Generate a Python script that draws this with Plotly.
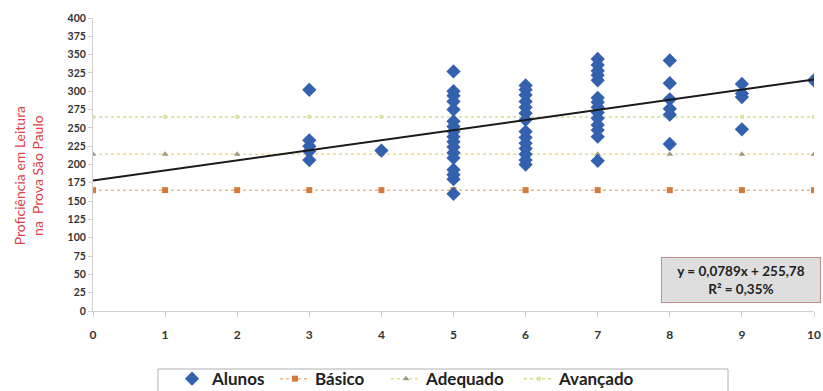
import plotly.graph_objects as go

# ---- data ----
alunos_x = ([3] * 5 + [4] + [5] * 17 + [6] * 14 + [7] * 14 + [8] * 6 + [9] * 4 + [10])
alunos_y = (
    [302, 233, 225, 218, 206]
    + [219]
    + [327, 300, 294, 286, 275, 259, 252, 245, 238, 231, 224, 216, 209, 193, 186, 180, 160]
    + [308, 302, 295, 286, 278, 270, 261, 245, 237, 229, 222, 214, 206, 200]
    + [344, 336, 328, 322, 315, 291, 285, 278, 271, 263, 254, 247, 238, 205]
    + [342, 311, 289, 276, 268, 228]
    + [310, 297, 292, 248]
    + [315]
)
level_x = list(range(0, 11))
basico_y = [165] * 11
adequado_y = [214] * 11
avancado_y = [265] * 11
trend_x = [0, 10]
trend_y = [178, 316]
x_ticks = list(range(0, 11))
y_ticks = list(range(0, 401, 25))

fig = go.Figure()
fig.add_trace(go.Scatter(
    x=level_x, y=basico_y, mode="lines+markers", name="Básico",
    line=dict(color="#EFB585", width=1.5, dash="dot"),
    marker=dict(symbol="square", size=6, color="#D47A3C"),
    legendrank=2, legendwidth=66,
))
fig.add_trace(go.Scatter(
    x=level_x, y=adequado_y, mode="lines+markers", name="Adequado",
    line=dict(color="#EEDB86", width=1.5, dash="dot"),
    marker=dict(symbol="triangle-up", size=6, color="#9E9A88"),
    legendrank=3, legendwidth=88,
))
fig.add_trace(go.Scatter(
    x=level_x, y=avancado_y, mode="lines+markers", name="Avançado",
    line=dict(color="#D3DD8E", width=1.5, dash="dot"),
    marker=dict(symbol="square", size=4, color="#DCE3A8"),
    legendrank=4, legendwidth=90,
))
fig.add_trace(go.Scatter(
    x=alunos_x, y=alunos_y, mode="markers", name="Alunos",
    marker=dict(symbol="diamond", size=11, color="#3461AE"),
    legendrank=1, legendwidth=58,
))
fig.add_trace(go.Scatter(
    x=trend_x, y=trend_y, mode="lines", showlegend=False,
    line=dict(color="#1a1a1a", width=2),
))

fig.add_annotation(
    x=8.99, y=42, xref="x", yref="y",
    text="<b>y = 0,0789x + 255,78<br>R² = 0,35%</b>",
    showarrow=False, font=dict(family="Lato", size=13.5, color="#222222"),
    bgcolor="#DEDEDE", bordercolor="#C98C8C", borderwidth=1, borderpad=4,
    width=150, height=36,
)
fig.add_annotation(
    x=-0.09, y=0.46, xref="paper", yref="paper", xanchor="center", yanchor="middle",
    text="Proficiência em Leitura<br>na  Prova São Paulo",
    textangle=-90, showarrow=False,
    font=dict(family="Lato", size=14, color="#E03F45"),
)
# legend frame
fig.add_shape(
    type="rect", xref="paper", yref="paper",
    x0=(158 - 93) / 721, x1=(728 - 93) / 721, y0=-0.198, y1=-0.40,
    line=dict(color="#B0B0B0", width=1), fillcolor="rgba(0,0,0,0)", layer="above",
)

fig.update_xaxes(
    range=[0, 10], tickvals=x_ticks, ticktext=[str(v) for v in x_ticks],
    showgrid=False, zeroline=False, showline=True, linecolor="#D0D0D0",
    ticks="outside", ticklen=5, tickcolor="#D0D0D0", ticklabeloverflow="allow",
    ticklabelstandoff=8,
    tickfont=dict(family="Lato", size=12, color="#333333", weight="bold"),
)
fig.update_yaxes(
    range=[0, 400], tickvals=y_ticks, ticktext=[str(v) for v in y_ticks],
    showgrid=False, zeroline=False, showline=True, linecolor="#D0D0D0",
    ticks="outside", ticklen=4, tickcolor="#D0D0D0",
    tickfont=dict(family="Lato", size=10.5, color="#333333", weight="bold"),
)
fig.update_layout(
    width=823, height=391,
    margin=dict(l=93, r=9, t=18, b=80, autoexpand=False),
    paper_bgcolor="white", plot_bgcolor="white",
    legend=dict(
        orientation="h", x=0.1096, xanchor="left", y=-0.171, yanchor="top",
        borderwidth=0, bgcolor="rgba(0,0,0,0)",
        font=dict(family="Lato", size=17, color="#222222", weight="bold"),
        itemwidth=30,
    ),
)
fig.write_html(
    "out.html",
    config={"displayModeBar": False},
    post_script="document.body.style.margin='0';document.body.style.overflow='hidden';",
)
